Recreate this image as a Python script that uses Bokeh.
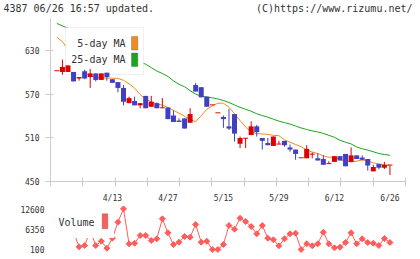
import numpy as np
from bokeh.plotting import figure
from bokeh.layouts import column
from bokeh.models import Range1d, FixedTicker, Label, BoxAnnotation
from bokeh.embed import file_html
from bokeh.resources import INLINE

# ---------------- data ----------------
dates = ["3/30", "3/31", "4/1", "4/2", "4/3", "4/6", "4/7", "4/8", "4/9", "4/10",
         "4/13", "4/14", "4/15", "4/16", "4/17", "4/20", "4/21", "4/22", "4/23", "4/24",
         "4/27", "4/28", "4/30", "5/1", "5/7", "5/8", "5/11", "5/12", "5/13", "5/14",
         "5/15", "5/18", "5/19", "5/20", "5/21", "5/22", "5/25", "5/26", "5/27", "5/28",
         "5/29", "6/1", "6/2", "6/3", "6/4", "6/5", "6/8", "6/9", "6/10", "6/11",
         "6/12", "6/15", "6/16", "6/17", "6/18", "6/19", "6/22", "6/23", "6/24", "6/25",
         "6/26"]
opens = [602, 601, 601, 601, 592, 602, 594, 599, 590, 600,
         591, 587, 579, 558, 561, 555, 568, 553, 558, 551,
         552, 541, 534, 537, 531, 583, 580, 567, 555, 544,
         539, 526, 543, 502, 509, 514, 526, 510, 503, 499,
         501, 506, 497, 494, 482, 482, 487, 482, 481, 474,
         477, 485, 488, 477, 486, 483, 481, 464, 474, 469,
         472]
highs = [602, 618, 610, 601, 594, 604, 605, 599, 599, 600,
         591, 587, 583, 567, 567, 558, 568, 568, 559, 565,
         552, 548, 537, 537, 551, 586, 580, 567, 555, 544,
         541, 550, 543, 512, 510, 533, 528, 510, 510, 512,
         506, 506, 501, 494, 482, 500, 490, 489, 486, 478,
         485, 485, 488, 497, 486, 486, 481, 473, 474, 477,
         472]
lows = [602, 597, 601, 588, 589, 591, 579, 588, 590, 589,
        586, 573, 555, 558, 555, 551, 551, 553, 551, 551,
        536, 532, 532, 523, 531, 574, 566, 553, 555, 544,
        524, 521, 505, 496, 496, 514, 512, 494, 500, 499,
        501, 498, 491, 480, 482, 482, 482, 479, 473, 474,
        477, 479, 471, 477, 481, 479, 465, 464, 467, 467,
        459]
closes = [602, 608, 610, 588, 594, 592, 599, 590, 599, 594,
          586, 579, 560, 565, 555, 558, 551, 560, 551, 552,
          536, 532, 532, 523, 543, 574, 566, 553, 555, 544,
          536, 523, 516, 510, 510, 526, 518, 506, 500, 512,
          501, 500, 494, 488, 482, 495, 487, 479, 473, 474,
          485, 479, 471, 486, 481, 480, 472, 470, 469, 473,
          472]
ma5 = [648.7, 642.9, 632.0, 618.0, 601.0, 598.5, 596.6, 593.5, 593.1, 592.6,
       592.5, 592.1, 589.4, 584.7, 578.6, 569.8, 563.7, 559.6, 556.9, 555.2,
       552.2, 548.1, 544.1, 540.0, 535.3, 532.6, 540.7, 549.5, 554.2, 557.9,
       557.9, 552.4, 543.4, 533.9, 525.1, 518.3, 516.0, 515.6, 515.0, 513.6,
       513.2, 507.5, 504.1, 501.0, 498.0, 493.3, 490.6, 488.6, 485.2, 483.4,
       483.6, 480.4, 477.7, 477.1, 478.0, 479.8, 478.4, 475.7, 474.4, 472.7,
       472.6]
ma25 = [667.9, 664.5, 661.1, 657.7, 654.4, 651.0, 647.6, 644.2, 640.8, 637.4,
        633.4, 629.3, 625.3, 621.2, 617.2, 614.4, 611.7, 607.0, 602.3, 598.9,
        594.8, 588.7, 584.0, 580.6, 575.2, 570.5, 567.7, 566.4, 565.4, 563.7,
        561.7, 558.9, 555.6, 552.2, 549.5, 546.8, 543.4, 540.9, 538.6, 535.9,
        533.2, 531.2, 529.2, 526.5, 523.8, 521.7, 519.7, 518.3, 516.3, 513.6,
        510.9, 506.8, 504.1, 501.8, 497.6, 495.1, 493.3, 491.0, 488.6, 487.2,
        486.1]
volume = [5500, 5000, 5000, 5500, 940, 1350, 6000, 1350, 2690, 510,
          3630, 8630, 12800, 1880, 2070, 4480, 4480, 2910, 3440, 9690,
          5320, 1660, 2380, 4160, 3940, 7910, 2380, 2690, 100, 100,
          1660, 7600, 6440, 9880, 8850, 7290, 5000, 7600, 3630, 3130,
          1260, 3440, 5000, 5190, 100, 1880, 1260, 1880, 5500, 1880,
          630, 820, 2290, 5320, 1880, 3440, 2290, 2070, 1350, 3540,
          2290]
price_ticks = [450, 510, 570, 630]
volume_ticks = [100, 6350, 12600]
label_step = 10
header_left = "4387 06/26 16:57 updated."
header_right = "(C)https://www.rizumu.net/"
legend_ma = ["5-day MA", "25-day MA"]
legend_vol = "Volume"

# ---------------- styles ----------------
MONO = "DejaVu Sans Mono"
UP = "#dd0000"
DOWN = "#4040c0"
C5 = "#f08c1e"
C25 = "#1aa61a"
CVOL = "#ff5c5c"
AXIS = "#cccccc"
TXT = "#333333"

n = len(dates)
idx = np.arange(n)
o = np.array(opens, float)
c = np.array(closes, float)
h = np.array(highs, float)
l = np.array(lows, float)
up = c >= o
colors = [UP if u else DOWN for u in up]
btm = np.minimum(o, c)
top = np.maximum(o, c)
min_h = 1.35
top = np.where(top - btm < min_h, btm + min_h, top)

x_start, x_end = -1.15, 62.8
xr = Range1d(x_start, x_end)

# ---------------- header ----------------
ph = figure(width=420, height=18, x_range=Range1d(0, 420), y_range=Range1d(0, 18),
            output_backend="svg", toolbar_location=None,
            x_axis_location=None, y_axis_location=None,
            min_border_left=0, min_border_right=0, min_border_top=0, min_border_bottom=0)
ph.frame_align = False
ph.grid.visible = False
ph.outline_line_color = None
ph.add_layout(Label(x=3, y=10, x_units="screen", y_units="screen", text=header_left,
                    text_font=MONO, text_font_size="10px", text_color=TXT, text_baseline="middle"))
ph.add_layout(Label(x=412, y=10, x_units="screen", y_units="screen", text=header_right,
                    text_font=MONO, text_font_size="10px", text_color=TXT, text_baseline="middle",
                    text_align="right"))

# ---------------- main ----------------
p = figure(width=420, height=187, x_range=xr, y_range=Range1d(450, 674.7),
           output_backend="svg", toolbar_location=None,
           min_border_left=50, min_border_right=15, min_border_top=0, min_border_bottom=21)
p.xgrid.visible = False
p.ygrid.visible = False
p.outline_line_color = None

p.line(idx, ma25, line_color=C25, line_width=1)
p.line(idx, ma5, line_color=C5, line_width=1)

p.segment(x0=idx, y0=l, x1=idx, y1=h, line_color=colors, line_width=1, level="overlay")
p.vbar(x=idx, width=0.9, bottom=btm, top=top, fill_color=colors, line_color=None, level="overlay")

divs = list(np.linspace(x_start, x_end, 12))
lab_idx = list(range(label_step, n, label_step))
p.xaxis.ticker = FixedTicker(ticks=lab_idx, minor_ticks=divs)
p.xaxis.major_label_overrides = {i: dates[i] for i in lab_idx}
p.xaxis.major_tick_in = 0
p.xaxis.major_tick_out = 0
p.xaxis.minor_tick_in = 4
p.xaxis.minor_tick_out = 5
p.xaxis.minor_tick_line_color = AXIS
p.xaxis.axis_line_color = AXIS
p.xaxis.major_label_standoff = 7
p.yaxis.ticker = FixedTicker(ticks=price_ticks)
p.yaxis.major_tick_in = 3
p.yaxis.major_tick_out = 5
p.yaxis.major_tick_line_color = AXIS
p.yaxis.minor_tick_line_color = None
p.yaxis.axis_line_color = AXIS
p.yaxis.major_label_standoff = 6
for ax in (p.xaxis, p.yaxis):
    ax.major_label_text_font = MONO
    ax.major_label_text_font_size = "8px"
    ax.major_label_text_color = TXT

# legend (main)
p.add_layout(BoxAnnotation(left=15, right=93, bottom=107, top=154, left_units="screen",
                           right_units="screen", bottom_units="screen", top_units="screen",
                           fill_color="white", fill_alpha=1, line_color=AXIS, line_width=1))
for k, (txt, col) in enumerate(zip(legend_ma, [C5, C25])):
    yc = 138.3 - k * 16.6
    p.add_layout(Label(x=75, y=yc, x_units="screen", y_units="screen", text=txt,
                       text_font=MONO, text_font_size="10px", text_color=TXT,
                       text_baseline="middle", text_align="right"))
    p.add_layout(BoxAnnotation(left=81, right=87.3, bottom=yc - 6.8, top=yc + 6.8,
                               left_units="screen", right_units="screen", bottom_units="screen",
                               top_units="screen", fill_color=col, fill_alpha=1,
                               line_color="#444444", line_width=1))

# ---------------- volume ----------------
pv = figure(width=420, height=54, x_range=xr, y_range=Range1d(-3025, 13850),
            output_backend="svg", toolbar_location=None,
            min_border_left=50, min_border_right=15, min_border_top=0, min_border_bottom=0)
pv.xgrid.visible = False
pv.ygrid.visible = False
pv.outline_line_color = None
pv.xaxis.visible = False
pv.line(idx, volume, line_color=CVOL, line_width=1)
pv.scatter(idx, volume, marker="square", angle=np.pi / 4, size=4.2, fill_color=CVOL, line_color=CVOL)
pv.yaxis.ticker = FixedTicker(ticks=volume_ticks)
pv.yaxis.major_tick_in = 0
pv.yaxis.major_tick_out = 0
pv.yaxis.minor_tick_line_color = None
pv.yaxis.axis_line_color = None
pv.yaxis.major_label_standoff = 6
pv.yaxis.major_label_text_font = MONO
pv.yaxis.major_label_text_font_size = "8px"
pv.yaxis.major_label_text_color = TXT

pv.add_layout(BoxAnnotation(left=0, right=63.5, bottom=21.5, top=54, left_units="screen",
                            right_units="screen", bottom_units="screen", top_units="screen",
                            fill_color="white", fill_alpha=1, line_color=None))
pv.add_layout(Label(x=44, y=36.7, x_units="screen", y_units="screen", text=legend_vol,
                    text_font=MONO, text_font_size="10px", text_color=TXT,
                    text_baseline="middle", text_align="right"))
pv.add_layout(BoxAnnotation(left=51.7, right=57.3, bottom=30.7, top=45.7, left_units="screen",
                            right_units="screen", bottom_units="screen", top_units="screen",
                            fill_color=CVOL, fill_alpha=1, line_color="#444444", line_width=1))

layout = column(ph, p, pv, spacing=0)
open("out.html", "w").write(file_html(layout, INLINE))
